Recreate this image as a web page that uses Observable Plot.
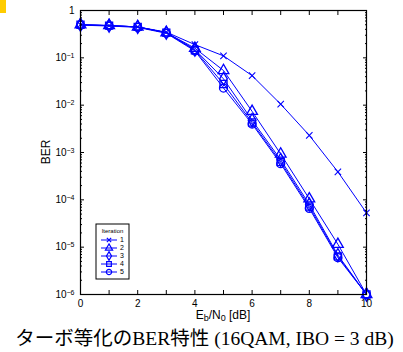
<!DOCTYPE html>
<html>
<head>
<meta charset="utf-8">
<script src="https://cdn.jsdelivr.net/npm/d3@7"></script>
<script src="https://cdn.jsdelivr.net/npm/@observablehq/plot@0.6"></script>
<style>
  html, body { margin: 0; padding: 0; background: white; }
  #wrap { position: relative; width: 403px; height: 352px; overflow: hidden; }
  #mark { position: absolute; left: 0; top: 0; width: 6px; height: 13px; background: #ffcc00; }
  #caption { position: absolute; left: 0; top: 326px; width: 403px; padding-left: 6px; box-sizing: border-box; text-align: center;
    font-family: "Liberation Serif", "Noto Sans CJK JP", serif; font-size: 19.5px; line-height: 22px; height: 22px; color: #000; white-space: nowrap; }
  #caption .jp { font-family: "Noto Sans CJK JP", sans-serif; }
</style>
</head>
<body>
<div id="wrap">
  <div id="chart"></div>
  <div id="mark"></div>
  <div id="caption"><span class="jp">ターボ等化の</span>BER<span class="jp">特性</span> (16QAM, IBO = 3 dB)</div>
</div>
<script>
// Eb/N0 values [dB]
const ebno = [0, 1, 2, 3, 4, 5, 6, 7, 8, 9, 10];
// Iteration labels
const iterations = ["1", "2", "3", "4", "5"];
// BER per iteration
const ber1 = [0.50, 0.48, 0.45, 0.35, 0.19, 0.11, 0.042, 0.0105, 0.0023, 3.9e-4, 5.3e-5];
const ber2 = [0.50, 0.48, 0.45, 0.34, 0.16, 0.054, 0.0074, 9.3e-4, 1.05e-4, 1.15e-5, 1e-6];
const ber3 = [0.50, 0.48, 0.45, 0.34, 0.15, 0.036, 0.0048, 7.0e-4, 8.0e-5, 6.8e-6, 1e-6];
const ber4 = [0.50, 0.48, 0.45, 0.34, 0.145, 0.028, 0.0043, 6.3e-4, 7.2e-5, 6.4e-6, 1e-6];
const ber5 = [0.49, 0.47, 0.44, 0.33, 0.14, 0.023, 0.0040, 5.8e-4, 6.6e-5, 6.0e-6, 1e-6];
// axis ticks
const xTicks = [0, 1, 2, 3, 4, 5, 6, 7, 8, 9, 10];
const yDecades = [1e-6, 1e-5, 1e-4, 1e-3, 1e-2, 1e-1, 1];
const yExponents = [-6, -5, -4, -3, -2, -1, 0];

const berSeries = [ber1, ber2, ber3, ber4, ber5];
const symbols = ["times", "triangle", "diamond", "square", "circle"];
const d3symbols = [d3.symbolTimes, d3.symbolTriangle, d3.symbolDiamond, d3.symbolSquare, d3.symbolCircle];

const data = [];
iterations.forEach((it, i) => ebno.forEach((x, j) => data.push({x, y: berSeries[i][j], s: it})));

const yMinor = [];
yExponents.slice(0, -1).forEach(e => { for (let m = 2; m <= 9; m++) yMinor.push(m * Math.pow(10, e)); });

const blue = "#0000ff";
const supFmt = d => {
  const e = Math.round(Math.log10(d));
  return e === 0 ? "1" : "10^" + String(e).replace("-", "−");
};

const chart = Plot.plot({
  width: 403,
  height: 325,
  marginLeft: 80,
  marginRight: 37,
  marginTop: 10,
  marginBottom: 31,
  style: {fontFamily: "'Liberation Sans', Arial, sans-serif", fontSize: "10px", background: "white", color: "black", overflow: "visible"},
  x: {domain: [0, 10]},
  y: {type: "log", domain: [1e-6, 1]},
  symbol: {domain: iterations, range: symbols},
  marks: [
    Plot.line(data, {x: "x", y: "y", z: "s", stroke: blue, strokeWidth: 1}),
    Plot.dot(data, {filter: d => d.s === "1", x: "x", y: "y", symbol: "s", stroke: blue, fill: "none", r: 3, strokeWidth: 1.1}),
    Plot.dot(data, {filter: d => d.s !== "1", x: "x", y: "y", symbol: "s", stroke: blue, fill: "none", r: 4, strokeWidth: 1.3}),
    Plot.axisX({anchor: "bottom", ticks: xTicks, tickSize: -4, tickPadding: 9, tickFormat: d => d % 2 === 0 ? String(d) : "", label: null}),
    Plot.axisX({anchor: "top", ticks: xTicks, tickSize: -4, tickFormat: () => "", label: null}),
    Plot.axisY({anchor: "left", ticks: yDecades, tickSize: -4, tickPadding: 10, tickFormat: supFmt, label: null}),
    Plot.axisY({anchor: "right", ticks: yDecades, tickSize: -4, tickFormat: () => "", label: null}),
    Plot.axisY({anchor: "left", ticks: yMinor, tickSize: -2, tickFormat: () => "", label: null}),
    Plot.axisY({anchor: "right", ticks: yMinor, tickSize: -2, tickFormat: () => "", label: null}),
    Plot.frame({stroke: "black", strokeWidth: 1.2})
  ]
});
document.getElementById("chart").appendChild(chart);

const svg = d3.select(chart);
// superscripts on y tick labels
svg.selectAll("text").each(function() {
  const t = this.textContent;
  if (t.startsWith("10^")) {
    const sel = d3.select(this);
    const ex = t.slice(3);
    sel.text(null);
    sel.append("tspan").text("10");
    sel.append("tspan").attr("dy", "-0.45em").attr("font-size", "7px").text(ex);
  }
});

const xs = chart.scale("x"), ys = chart.scale("y");
const cx = (xs.apply(0) + xs.apply(10)) / 2;
// x label with subscripts
const xl = svg.append("text").attr("x", cx).attr("y", 318.5).attr("text-anchor", "middle")
  .attr("font-size", "12px").attr("fill", "black");
xl.append("tspan").text("E");
xl.append("tspan").attr("font-size", "9px").attr("dy", "2").text("b");
xl.append("tspan").attr("dy", "-2").text("/N");
xl.append("tspan").attr("font-size", "9px").attr("dy", "2").text("0");
xl.append("tspan").attr("dy", "-2").text(" [dB]");
// y label
const cy = (ys.apply(1) + ys.apply(1e-6)) / 2;
svg.append("text").attr("transform", `translate(50,${cy}) rotate(-90)`).attr("text-anchor", "middle")
  .attr("font-size", "12px").attr("fill", "black").text("BER");

// legend
const lg = svg.append("g").attr("transform", "translate(96,224)");
lg.append("rect").attr("width", 33).attr("height", 55).attr("fill", "white").attr("stroke", "black").attr("stroke-width", 1);
lg.append("text").attr("x", 16.5).attr("y", 9).attr("text-anchor", "middle").attr("font-size", "6px").attr("fill", "black").text("Iteration");
iterations.forEach((it, i) => {
  const yy = 16 + i * 8;
  lg.append("line").attr("x1", 5).attr("x2", 21).attr("y1", yy).attr("y2", yy).attr("stroke", blue).attr("stroke-width", 1);
  lg.append("path").attr("transform", `translate(13,${yy})`).attr("d", d3.symbol(d3symbols[i], i === 0 ? 14 : 22)()).attr("fill", "none").attr("stroke", blue).attr("stroke-width", 1.2);
  lg.append("text").attr("x", 26).attr("y", yy).attr("dy", "0.35em").attr("font-size", "7px").attr("fill", "black").text(it);
});
</script>
</body>
</html>
